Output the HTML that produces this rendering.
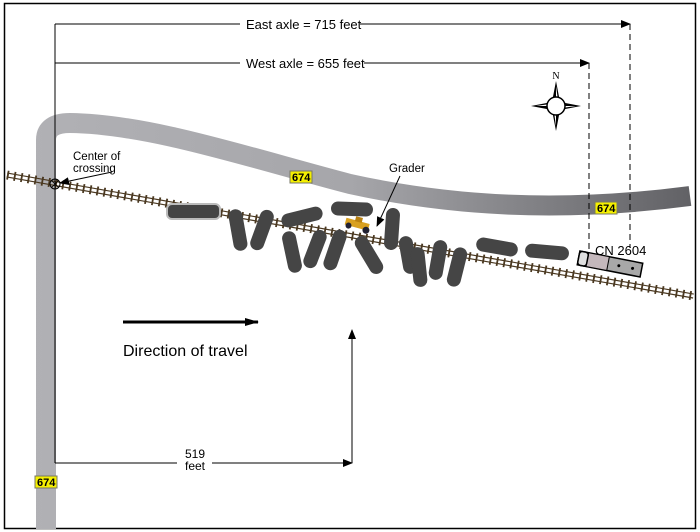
<!DOCTYPE html>
<html><head><meta charset="utf-8"><style>
html,body{margin:0;padding:0;background:#fff;}
svg{display:block;font-family:"Liberation Sans",Arial,sans-serif;}
</style></head><body>
<svg width="700" height="532" viewBox="0 0 700 532" xmlns="http://www.w3.org/2000/svg">
<defs>
<linearGradient id="rg" x1="0" y1="0" x2="700" y2="0" gradientUnits="userSpaceOnUse">
<stop offset="0" stop-color="#b2b2b6"/><stop offset="0.5" stop-color="#a6a6aa"/><stop offset="1" stop-color="#606064"/>
</linearGradient>
<marker id="ah" markerWidth="10" markerHeight="8" refX="9" refY="4" orient="auto" markerUnits="userSpaceOnUse"><path d="M0,0 L10,4 L0,8 Z" fill="#000"/></marker>
<marker id="ah2" markerWidth="14" markerHeight="8" refX="13" refY="4" orient="auto" markerUnits="userSpaceOnUse"><path d="M0,0 L14,4 L0,8 Z" fill="#000"/></marker>
</defs>
<rect x="4.5" y="3.5" width="691" height="525" fill="#fff" stroke="#000" stroke-width="1.5"/>
<!-- road -->
<path d="M46,529 L46,140 Q46,123 70,123 C150,124 250,158 350,184 C450,206 560,213 690,196" fill="none" stroke="url(#rg)" stroke-width="20"/>
<!-- track -->
<g transform="translate(7,175) rotate(10)">
<line x1="0" y1="0" x2="697" y2="0" stroke="#4a3820" stroke-width="9" stroke-dasharray="1.8,5.2"/>
<line x1="0" y1="-2" x2="697" y2="-2" stroke="#4a3820" stroke-width="1.2"/>
<line x1="0" y1="2" x2="697" y2="2" stroke="#4a3820" stroke-width="1.2"/>
</g>
<!-- cars -->
<g fill="#454545">
<rect x="167" y="204" width="53" height="15" rx="5" fill="#444" stroke="#bbb" stroke-width="2"/>
<g stroke="none">
<rect x="-7" y="-21" width="14" height="42" rx="7" transform="translate(238,230) rotate(-10)"/>
<rect x="-7" y="-21" width="14" height="42" rx="7" transform="translate(262,230) rotate(20)"/>
<rect x="-21" y="-7" width="42" height="14" rx="7" transform="translate(302,217) rotate(-14)"/>
<rect x="-7" y="-21" width="14" height="42" rx="7" transform="translate(292,252) rotate(-12)"/>
<rect x="-7" y="-20" width="14" height="40" rx="7" transform="translate(315,249) rotate(21)"/>
<rect x="-21" y="-7" width="42" height="14" rx="7" transform="translate(352,209) rotate(2)"/>
<rect x="-7" y="-21" width="14" height="42" rx="7" transform="translate(335,250) rotate(19)"/>
<rect x="-7" y="-21" width="14" height="42" rx="7" transform="translate(369,255) rotate(-31)"/>
<rect x="-7" y="-21" width="14" height="42" rx="7" transform="translate(392,229) rotate(4)"/>
<rect x="-7" y="-19" width="14" height="38" rx="7" transform="translate(408,255) rotate(-10)"/>
<rect x="-7" y="-20" width="14" height="40" rx="7" transform="translate(419,267) rotate(-6)"/>
<rect x="-7" y="-20" width="14" height="40" rx="7" transform="translate(438,260) rotate(10)"/>
<rect x="-7" y="-20" width="14" height="40" rx="7" transform="translate(457,267) rotate(14)"/>
<rect x="-21" y="-7" width="42" height="14" rx="7" transform="translate(497,247) rotate(10)"/>
<rect x="-22" y="-7" width="44" height="14" rx="7" transform="translate(547,252) rotate(5)"/>
</g>
</g>
<!-- grader -->
<g transform="translate(358,225) rotate(15)">
<rect x="-13" y="-4" width="24" height="7" fill="#d8a020"/>
<rect x="-4" y="-8" width="7" height="5" fill="#b88010"/>
<circle cx="-9" cy="3" r="3" fill="#223"/><circle cx="9" cy="3" r="3.5" fill="#223"/>
</g>
<!-- locomotive -->
<g transform="translate(610,264) rotate(11)">
<rect x="-32" y="-7" width="64" height="14" fill="#a8a8a8" stroke="#000" stroke-width="1.5"/>
<rect x="-23" y="-7" width="21" height="14" fill="#c4b8bc" stroke="#000" stroke-width="1"/>
<rect x="-32" y="-7" width="9" height="14" rx="3" fill="#e0e0e0" stroke="#000" stroke-width="1.5"/>
<circle cx="9" cy="0" r="1.5" fill="#000"/><circle cx="23" cy="0" r="1.5" fill="#000"/>
</g>
<text x="595" y="255" font-size="13">CN 2604</text>
<!-- dims -->
<g stroke="#000" stroke-width="1" fill="none">
<line x1="55" y1="24" x2="55" y2="463"/>
<line x1="55" y1="24" x2="630" y2="24" marker-end="url(#ah)"/>
<line x1="55" y1="63" x2="589" y2="63" marker-end="url(#ah)"/>
<line x1="55" y1="463" x2="352" y2="463" marker-end="url(#ah)"/>
<line x1="352" y1="463" x2="352" y2="330" marker-end="url(#ah)"/>
<line x1="630" y1="24" x2="630" y2="248" stroke-dasharray="6,4"/>
<line x1="589" y1="63" x2="589" y2="252" stroke-dasharray="6,4"/>
</g>
<rect x="240" y="14" width="120" height="18" fill="#fff"/>
<text x="246" y="29" font-size="13">East axle = 715 feet</text>
<rect x="240" y="54" width="124" height="18" fill="#fff"/>
<text x="246" y="68" font-size="13">West axle = 655 feet</text>
<rect x="177" y="442" width="35" height="30" fill="#fff"/>
<text x="195" y="458" font-size="12" text-anchor="middle">519</text>
<text x="195" y="470" font-size="12" text-anchor="middle">feet</text>
<!-- direction -->
<line x1="123" y1="322" x2="258" y2="322" stroke="#000" stroke-width="3" marker-end="url(#ah2)"/>
<text x="123" y="356" font-size="16">Direction of travel</text>
<!-- crossing -->
<circle cx="55" cy="184" r="5" fill="none" stroke="#000" stroke-width="1"/>
<path d="M51.5,180.5 L58.5,187.5 M58.5,180.5 L51.5,187.5" stroke="#000" stroke-width="0.8"/>
<line x1="112" y1="172" x2="60" y2="183" stroke="#000" stroke-width="1" marker-end="url(#ah)"/>
<text x="73" y="160" font-size="11.5">Center of</text>
<text x="73" y="172" font-size="11.5">crossing</text>
<text x="389" y="172" font-size="11.5">Grader</text>
<line x1="400" y1="176" x2="377" y2="226" stroke="#000" stroke-width="1" marker-end="url(#ah)"/>
<!-- signs -->
<g font-size="11" font-weight="bold">
<rect x="290" y="171" width="22" height="12" fill="#f5f000" stroke="#776"/><text x="292" y="181">674</text>
<rect x="595" y="202" width="22" height="12" fill="#f5f000" stroke="#776"/><text x="597" y="212">674</text>
<rect x="35" y="476" width="22" height="12" fill="#f5f000" stroke="#776"/><text x="37" y="486">674</text>
</g>
<!-- compass -->
<g transform="translate(556,106)">
<path d="M0,-25 L4,-4 L25,0 L4,4 L0,25 L-4,4 L-25,0 L-4,-4 Z" fill="#000"/>
<path d="M0,-20 L2,-6 L0,-3 Z M20,0 L6,2 L3,0 Z M0,20 L-2,6 L0,3 Z M-20,0 L-6,-2 L-3,0 Z" fill="#fff"/>
<circle r="9" fill="#fff" stroke="#000" stroke-width="1.5"/>
</g>
<text x="556" y="79" font-size="10" font-family="Liberation Serif,serif" text-anchor="middle">N</text>
</svg>
</body></html>
